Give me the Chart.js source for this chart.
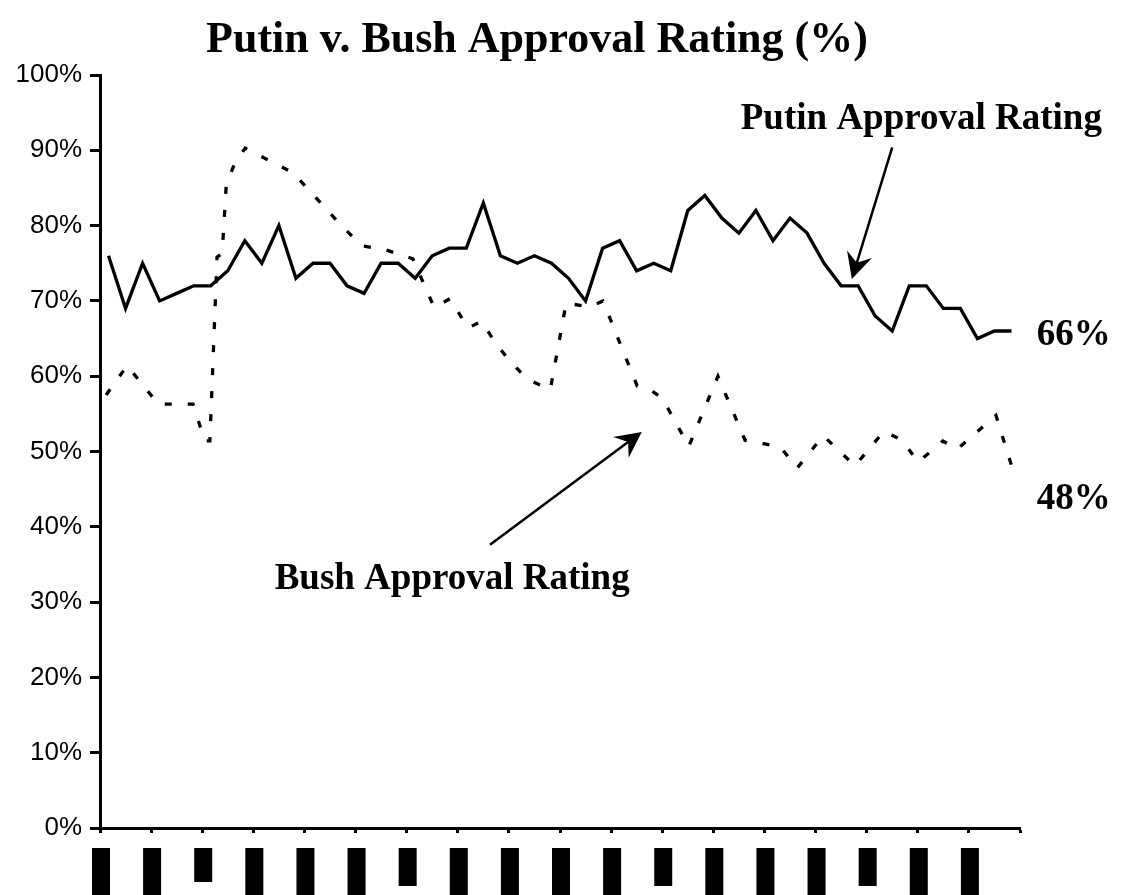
<!DOCTYPE html>
<html>
<head>
<meta charset="utf-8">
<title>Putin v. Bush Approval Rating (%)</title>
<script src="https://cdn.jsdelivr.net/npm/chart.js@4.4.1/dist/chart.umd.min.js"></script>
<style>
  html, body { margin: 0; padding: 0; background: #fff; }
  canvas { display: block; }
</style>
</head>
<body>
<canvas id="approvalCanvas" width="1128" height="895"></canvas>
<script>
// Putin: monthly readings, three per axis division
const putinApproval = [76, 69, 75, 70, 71, 72, 72, 74, 78, 75, 80, 73, 75, 75, 72, 71, 75, 75,
                       73, 76, 77, 77, 83, 76, 75, 76, 75, 73, 70, 77, 78, 74, 75, 74, 82, 84,
                       81, 79, 82, 78, 81, 79, 75, 72, 72, 68, 66, 72, 72, 69, 69, 65, 66, 66];

// Bush: irregular poll dates, given in axis divisions
const bushDates = [0.12, 0.53, 1.14, 1.82, 2.05, 2.15, 2.29, 2.39, 2.47, 2.62, 2.84, 3.78, 4.75,
                   5.13, 5.58, 6.12, 6.54, 6.85, 7.2, 7.47, 7.69, 7.98, 8.36, 8.81, 9.12, 9.59,
                   9.84, 10.51, 10.72, 11.0, 11.52, 12.09, 12.62, 13.01, 13.31, 13.64, 14.15,
                   14.77, 15.34, 15.69, 16.01, 16.49, 16.77, 17.53, 17.84];
const bushApproval = [57.5, 61.4, 56.3, 56.3, 51.4, 51.4, 75.8, 76.3, 85.4, 88, 90.3, 87, 79.8,
                      77.3, 76.8, 75.6, 69.1, 70.3, 66.4, 67.3, 64.9, 62.3, 59.6, 58.2, 69.7, 69.2,
                      70, 58.7, 58.4, 57.1, 50.7, 60, 51.5, 51, 50.6, 47.8, 52.1,
                      48.1, 52.7, 51.5, 48.6, 51.4, 50.3, 54.8, 48];

const yTicks = [0, 10, 20, 30, 40, 50, 60, 70, 80, 90, 100];
const xDivisions = 18;

const serifBold = '"Liberation Serif", "Times New Roman", Times, serif';
const sansFont = '"Liberation Sans", Arial, Helvetica, sans-serif';

const putinPoints = putinApproval.map((v, i) => ({ x: (i + 0.5) / 3, y: v }));
const bushPoints = bushApproval.map((v, i) => ({ x: bushDates[i], y: v }));

function drawArrow(ctx, x1, y1, x2, y2) {
    const ang = Math.atan2(y2 - y1, x2 - x1);
    const len = 26, half = 13, notch = 17;
    const bx = x2 - Math.cos(ang) * notch, by = y2 - Math.sin(ang) * notch;
    ctx.beginPath();
    ctx.moveTo(x1, y1);
    ctx.lineTo(bx, by);
    ctx.lineWidth = 2.5;
    ctx.stroke();
    const cx = x2 - Math.cos(ang) * len, cy = y2 - Math.sin(ang) * len;
    ctx.beginPath();
    ctx.moveTo(x2, y2);
    ctx.lineTo(cx + Math.sin(ang) * half, cy - Math.cos(ang) * half);
    ctx.lineTo(bx, by);
    ctx.lineTo(cx - Math.sin(ang) * half, cy + Math.cos(ang) * half);
    ctx.closePath();
    ctx.fill();
}

// title, callouts, end values and the blacked-out date labels
const notesPlugin = {
    id: "approvalNotes",
    afterDraw(chart) {
        const { ctx, chartArea } = chart;
        const xs = chart.scales.x, ys = chart.scales.y;
        const px = v => xs.getPixelForValue(v);
        const py = v => ys.getPixelForValue(v);

        ctx.save();
        ctx.fillStyle = "#000";
        ctx.strokeStyle = "#000";

        ctx.font = "bold 44px " + serifBold;
        ctx.textAlign = "center";
        ctx.textBaseline = "alphabetic";
        ctx.fillText("Putin v. Bush Approval Rating (%)", 537, 52);

        ctx.font = "bold 37px " + serifBold;
        ctx.fillText("Putin Approval Rating", px(16.07), py(92.8));
        ctx.fillText("Bush Approval Rating", px(6.89), py(31.7));

        ctx.textAlign = "left";
        ctx.fillText(putinApproval[putinApproval.length - 1] + "%", px(18.33), py(64.1));
        ctx.fillText(bushApproval[bushApproval.length - 1] + "%", px(18.33), py(42.4));

        drawArrow(ctx, px(15.50), py(90.4), px(14.71), py(72.9));
        drawArrow(ctx, px(7.63), py(37.6), px(10.60), py(52.6));

        // date labels below the axis are blacked out
        const shortBlocks = { 2: 13, 6: 9, 11: 9, 15: 9 };
        for (let k = 0; k < xDivisions; k++) {
            const cx = px(k) + 1;
            const top = chartArea.bottom + 20;
            const bottom = chart.height - (shortBlocks[k] || 0);
            ctx.fillRect(cx - 9, top, 18, bottom - top);
        }
        ctx.restore();
    }
};

new Chart(document.getElementById("approvalCanvas"), {
    type: "line",
    data: {
        datasets: [
            {
                label: "Putin Approval Rating",
                data: putinPoints,
                borderColor: "#000",
                borderWidth: 3.3,
                pointRadius: 0,
                tension: 0
            },
            {
                label: "Bush Approval Rating",
                data: bushPoints,
                borderColor: "#000",
                borderWidth: 3.3,
                borderDash: [7, 16],
                borderCapStyle: "butt",
                pointRadius: 0,
                tension: 0
            }
        ]
    },
    options: {
        responsive: false,
        animation: false,
        layout: { padding: { left: 0, right: 108, top: 75, bottom: 59 } },
        plugins: {
            legend: { display: false },
            title: { display: false },
            tooltip: { enabled: false }
        },
        scales: {
            x: {
                type: "linear",
                min: 0,
                max: xDivisions,
                ticks: { display: false, stepSize: 1 },
                grid: { drawOnChartArea: false, tickLength: 5, tickWidth: 3, tickColor: "#000" },
                border: { color: "#000", width: 3 },
                afterFit(scale) { scale.height = 8; }
            },
            y: {
                min: yTicks[0],
                max: yTicks[yTicks.length - 1],
                afterBuildTicks(scale) { scale.ticks = yTicks.map(v => ({ value: v })); },
                ticks: {
                    color: "#000",
                    padding: 8,
                    font: { family: sansFont, size: 26 },
                    callback: v => v + "%"
                },
                grid: { drawOnChartArea: false, tickLength: 10, tickWidth: 3, tickColor: "#000" },
                border: { color: "#000", width: 3 },
                afterFit(scale) { scale.width = 100; }
            }
        }
    },
    plugins: [notesPlugin]
});
</script>
</body>
</html>
